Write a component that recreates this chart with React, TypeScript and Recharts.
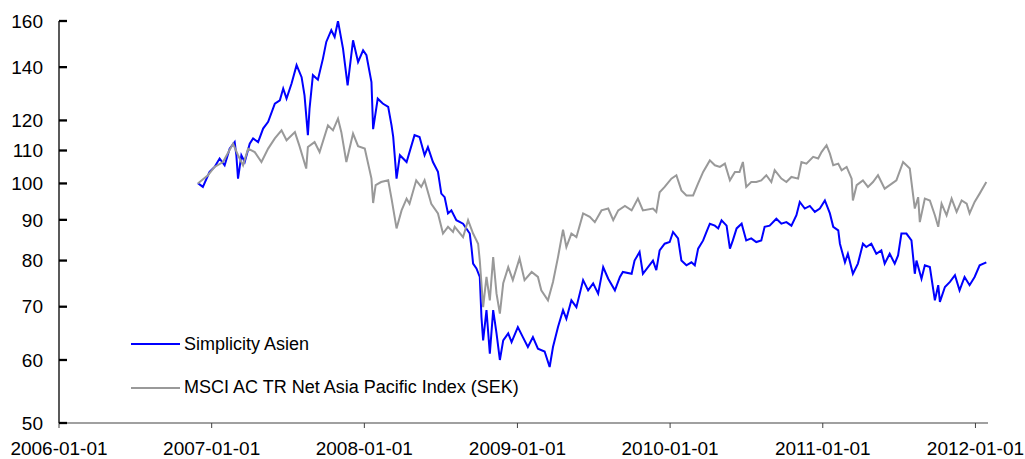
import React from 'react';
import { LineChart, Line, XAxis, YAxis, Legend } from 'recharts';

const blueName = 'Simplicity Asien';
const grayName = 'MSCI AC TR Net Asia Pacific Index (SEK)';
const legendOrder = [blueName, grayName];

const xTickDates = ['2006-01-01', '2007-01-01', '2008-01-01', '2009-01-01', '2010-01-01', '2011-01-01', '2012-01-01'];
const xStart = '2006-01-01';
const xEnd = '2012-01-31';
const yTicks = [50, 60, 70, 80, 90, 100, 110, 120, 140, 160];

// Simplicity Asien
const blueDates = [
  '2006-11-29', '2006-12-11', '2006-12-27',
  '2007-01-08', '2007-01-20', '2007-02-01', '2007-02-13', '2007-02-25', '2007-03-01', '2007-03-05', '2007-03-13',
  '2007-03-21', '2007-04-02', '2007-04-10', '2007-04-22', '2007-05-04', '2007-05-16', '2007-06-01', '2007-06-13',
  '2007-06-21', '2007-06-29', '2007-07-11', '2007-07-23', '2007-08-04', '2007-08-11', '2007-08-19', '2007-08-23',
  '2007-08-31', '2007-09-12', '2007-09-24', '2007-10-02', '2007-10-14', '2007-10-22', '2007-10-30', '2007-11-11',
  '2007-11-22', '2007-12-05', '2007-12-17', '2007-12-29',
  '2008-01-06', '2008-01-18', '2008-01-22', '2008-02-02', '2008-02-14', '2008-02-27', '2008-03-06', '2008-03-10',
  '2008-03-18', '2008-03-26', '2008-04-11', '2008-04-30', '2008-05-12', '2008-05-24', '2008-06-01', '2008-06-13',
  '2008-06-25', '2008-07-03', '2008-07-11', '2008-07-19', '2008-07-27', '2008-08-08', '2008-08-24', '2008-09-09',
  '2008-09-13', '2008-09-17', '2008-09-25', '2008-10-03', '2008-10-07', '2008-10-11', '2008-10-19', '2008-10-27',
  '2008-11-04', '2008-11-12', '2008-11-20', '2008-11-28', '2008-12-10', '2008-12-18',
  '2009-01-02', '2009-01-14', '2009-01-26', '2009-02-07', '2009-02-19', '2009-03-07', '2009-03-19', '2009-03-27',
  '2009-04-08', '2009-04-20', '2009-04-28', '2009-05-10', '2009-05-22', '2009-06-07', '2009-06-19', '2009-07-01',
  '2009-07-13', '2009-07-25', '2009-08-06', '2009-08-22', '2009-09-03', '2009-09-10', '2009-10-01', '2009-10-08',
  '2009-10-20', '2009-10-28', '2009-11-21', '2009-11-29', '2009-12-07', '2009-12-19', '2009-12-31',
  '2010-01-08', '2010-01-20', '2010-01-28', '2010-02-09', '2010-02-21', '2010-03-01', '2010-03-09', '2010-03-21',
  '2010-03-29', '2010-04-06', '2010-04-18', '2010-04-26', '2010-05-04', '2010-05-16', '2010-05-24', '2010-05-31',
  '2010-06-09', '2010-06-21', '2010-07-02', '2010-07-14', '2010-07-26', '2010-08-07', '2010-08-15', '2010-08-27',
  '2010-09-12', '2010-09-24', '2010-10-06', '2010-10-18', '2010-10-30', '2010-11-07', '2010-11-19', '2010-12-01',
  '2010-12-13', '2010-12-25',
  '2011-01-06', '2011-01-18', '2011-01-26', '2011-02-07', '2011-02-11', '2011-02-23', '2011-03-02', '2011-03-14',
  '2011-03-26', '2011-04-07', '2011-04-15', '2011-04-27', '2011-05-09', '2011-05-21', '2011-05-29', '2011-06-10',
  '2011-06-22', '2011-06-30', '2011-07-08', '2011-07-20', '2011-08-01', '2011-08-09', '2011-08-13', '2011-08-25',
  '2011-09-02', '2011-09-14', '2011-09-26', '2011-10-04', '2011-10-08', '2011-10-20', '2011-11-01', '2011-11-13',
  '2011-11-24', '2011-12-06', '2011-12-18', '2011-12-30',
  '2012-01-11', '2012-01-27',
];
const blueValues = [
  100.1, 99, 103.4,
  104.9, 107.5, 105.4, 110.6, 112.7, 108.5, 101.4, 108.5,
  106.4, 112.2, 113.9, 112.7, 117.2, 119.5, 126, 127.2,
  131.6, 127.8, 133.5, 140.8, 136, 129, 115, 124.2,
  136.8, 135, 143.5, 150.6, 155.8, 152.8, 160, 147.7,
  132.8, 151.3, 142.1, 147,
  144.9, 134.1, 117, 127.8, 126, 124.8, 118.3, 114.4,
  101.4, 108.5, 106.4, 115, 114.4, 108.5, 111.1, 106.4,
  103.4, 97.1, 96.1, 91.7, 92.5, 89.9, 89, 86.5,
  83.2, 79.3, 78.2, 76.3, 67.9, 63.5, 69.3, 61.1,
  69.3, 64.8, 60, 63.5, 64.8, 63.2,
  66, 64.1, 62.3, 64.1, 62, 61.5, 58.8, 62.3,
  66, 69.3, 67.6, 71.3, 69.9, 75.6, 73.4, 74.9,
  72.7, 78.5, 75.9, 73.4, 76.3, 77.4, 77, 80,
  82, 77, 80, 77.8, 82.4, 84, 84.4,
  86.9, 85.3, 80, 78.9, 79.6, 78.9, 82.8, 84.8,
  86.9, 89, 88.5, 87.8, 89.9, 88.5, 82.8, 84.8,
  87.8, 89, 84.8, 85.3, 84.4, 84.8, 88.2, 88.5,
  90.3, 89, 89.4, 88.5, 91.2, 94.8, 93, 93.7,
  92.1, 93,
  95.2, 91.7, 88.2, 87.3, 84, 79.6, 81.6, 77,
  79.3, 84, 83.2, 84, 81.6, 82.4, 79.3, 81.6,
  79.3, 81.2, 86.5, 86.5, 84.8, 77, 80, 75.9,
  78.9, 78.5, 71.3, 74.5, 71, 74.1, 75.2, 76.7,
  73.4, 76.3, 74.5, 76.3,
  78.9, 79.6,
];

// MSCI AC TR Net Asia Pacific Index (SEK)
const grayDates = [
  '2006-11-29', '2006-12-23',
  '2007-01-08', '2007-01-28', '2007-02-21', '2007-03-05', '2007-03-17', '2007-03-29', '2007-04-14', '2007-04-30',
  '2007-05-16', '2007-06-01', '2007-06-17', '2007-06-29', '2007-07-19', '2007-07-30', '2007-08-15', '2007-08-19',
  '2007-09-04', '2007-09-16', '2007-10-06', '2007-10-18', '2007-10-30', '2007-11-07', '2007-11-19', '2007-12-05',
  '2007-12-17',
  '2008-01-02', '2008-01-18', '2008-01-22', '2008-01-28', '2008-02-10', '2008-02-27', '2008-03-06', '2008-03-18',
  '2008-03-30', '2008-04-11', '2008-04-18', '2008-05-04', '2008-05-16', '2008-05-24', '2008-06-09', '2008-06-25',
  '2008-07-07', '2008-07-19', '2008-07-31', '2008-08-04', '2008-08-24', '2008-09-05', '2008-09-17', '2008-09-29',
  '2008-10-03', '2008-10-11', '2008-10-19', '2008-10-27', '2008-11-04', '2008-11-12', '2008-11-20', '2008-11-28',
  '2008-12-10', '2008-12-21',
  '2009-01-06', '2009-01-18', '2009-02-04', '2009-02-19', '2009-02-27', '2009-03-15', '2009-03-27', '2009-04-08',
  '2009-04-20', '2009-04-28', '2009-05-10', '2009-05-22', '2009-06-07', '2009-06-23', '2009-07-05', '2009-07-21',
  '2009-08-06', '2009-08-18', '2009-08-30', '2009-09-15', '2009-10-01', '2009-10-16', '2009-10-28', '2009-11-21',
  '2009-11-29', '2009-12-07', '2009-12-19',
  '2010-01-04', '2010-01-16', '2010-01-28', '2010-02-09', '2010-02-25', '2010-03-09', '2010-03-21', '2010-04-06',
  '2010-04-18', '2010-04-30', '2010-05-12', '2010-05-24', '2010-06-05', '2010-06-16', '2010-06-24', '2010-07-02',
  '2010-07-14', '2010-07-26', '2010-08-07', '2010-08-19', '2010-08-31', '2010-09-08', '2010-09-24', '2010-10-06',
  '2010-10-18', '2010-11-03', '2010-11-11', '2010-11-23', '2010-12-09', '2010-12-21', '2010-12-29',
  '2011-01-10', '2011-01-18', '2011-01-26', '2011-02-07', '2011-02-15', '2011-02-27', '2011-03-11', '2011-03-14',
  '2011-03-23', '2011-04-07', '2011-04-19', '2011-05-01', '2011-05-13', '2011-05-29', '2011-06-10', '2011-06-26',
  '2011-07-12', '2011-07-28', '2011-08-09', '2011-08-17', '2011-08-21', '2011-09-02', '2011-09-14', '2011-09-26',
  '2011-10-04', '2011-10-12', '2011-10-24', '2011-11-05', '2011-11-17', '2011-11-29', '2011-12-11', '2011-12-18',
  '2011-12-30',
  '2012-01-11', '2012-01-27',
];
const grayValues = [
  100, 102.4,
  104.9, 106.4, 112.2, 108.5, 105.4, 110.6, 109.5, 106.4,
  110.6, 113.9, 116.6, 113.3, 116, 111.4, 104.4, 111.1,
  112.7, 109.5, 118.3, 116.6, 120.6, 116, 106.4, 115.5,
  111.4,
  110.6, 101.4, 94.5, 99.5, 100.4, 100.9, 95.7, 87.8,
  92.5, 95.7, 94.3, 100.9, 99, 100.9, 94.3, 91.7,
  86.5, 88.2, 86.9, 88.2, 85.6, 89.9, 86.5, 84,
  80, 69.9, 76.3, 71.3, 80.8, 72.7, 68.6, 74.9,
  78.5, 75.6,
  80.5, 75.6, 77.4, 76.3, 73.4, 71.3, 75.2, 80.8,
  87.5, 83.2, 86.5, 85.6, 91.7, 90.8, 89.4, 92.5,
  93, 89.9, 92.5, 93.7, 92.5, 95.7, 92.5, 93,
  92.1, 97.5, 99,
  101.4, 102.4, 98, 96.6, 96.6, 100, 103.4, 106.9,
  105.4, 104.9, 105.9, 100.9, 103.4, 103.4, 106.4, 99,
  100.4, 100.4, 100.9, 102.4, 100.4, 103.9, 101.4, 100.4,
  101.9, 101.4, 106.4, 105.9, 108, 107.5, 109.5,
  111.7, 109, 105.4, 105.9, 103.9, 104.9, 101.4, 95.2,
  99.5, 100.9, 99, 100.4, 102.4, 98.5, 99.5, 100.9,
  106.4, 104.4, 93, 96.1, 89.4, 95.7, 95.2, 91.2,
  88.2, 94.3, 91.2, 95.7, 92.1, 95.2, 94.3, 91.7,
  94.8,
  97.1, 100.4,
];

const toRows = (dates: string[], values: number[]) =>
  dates.map((d, i) => ({ t: Date.parse(d), v: values[i] }));

const blueRows = toRows(blueDates, blueValues);
const grayRows = toRows(grayDates, grayValues);
const xTicks = xTickDates.map((d) => Date.parse(d));

const font = '"Liberation Sans", Arial, sans-serif';

const fmtDate = (v: number) => new Date(v).toISOString().slice(0, 10);

const renderLegend = (props: any) => {
  const items = [...(props.payload || [])].sort(
    (a: any, b: any) => legendOrder.indexOf(a.value) - legendOrder.indexOf(b.value)
  );
  return (
    <div style={{ fontFamily: font, fontSize: 18, color: '#000' }}>
      {items.map((entry: any) => (
        <div key={entry.value} style={{ display: 'flex', alignItems: 'center', height: 43.5 }}>
          <div style={{ width: 49, height: 0, borderTop: `2px solid ${entry.color}`, marginRight: 4 }} />
          <span style={{ whiteSpace: 'nowrap' }}>{entry.value}</span>
        </div>
      ))}
    </div>
  );
};

export default function App() {
  // absolute so the body margin does not push the page past the window
  return (
    <div style={{ position: 'absolute', left: 8, top: 8, fontFamily: font }}>
      <LineChart width={1017} height={451} margin={{ top: 13, right: 37, bottom: 6, left: 0 }}>
        <XAxis
          type="number"
          dataKey="t"
          domain={[Date.parse(xStart), Date.parse(xEnd)]}
          allowDataOverflow
          ticks={xTicks}
          interval={0}
          tickFormatter={fmtDate}
          height={30}
          tickSize={5}
          tickMargin={13.3}
          tick={{ fill: '#000', fontSize: 19, fontFamily: font }}
          tickLine={{ stroke: '#404040', strokeWidth: 1 }}
          axisLine={{ stroke: '#808080', strokeWidth: 1.5 }}
        />
        <YAxis
          type="number"
          scale="log"
          domain={[50, 160]}
          allowDataOverflow
          ticks={yTicks}
          interval={0}
          width={51}
          tickSize={-8}
          tickMargin={24}
          tick={{ fill: '#000', fontSize: 19, fontFamily: font }}
          tickLine={{ stroke: '#000', strokeWidth: 2.3 }}
          axisLine={{ stroke: '#000', strokeWidth: 1.3 }}
        />
        <Legend
          layout="vertical"
          align="center"
          verticalAlign="middle"
          content={renderLegend}
          wrapperStyle={{ left: 123, top: 314.5, width: 'auto' }}
        />
        <Line
          data={blueRows}
          dataKey="v"
          name={blueName}
          type="linear"
          stroke="#0000FF"
          strokeWidth={2}
          dot={false}
          isAnimationActive={false}
        />
        <Line
          data={grayRows}
          dataKey="v"
          name={grayName}
          type="linear"
          stroke="#999999"
          strokeWidth={2}
          dot={false}
          isAnimationActive={false}
        />
      </LineChart>
    </div>
  );
}
